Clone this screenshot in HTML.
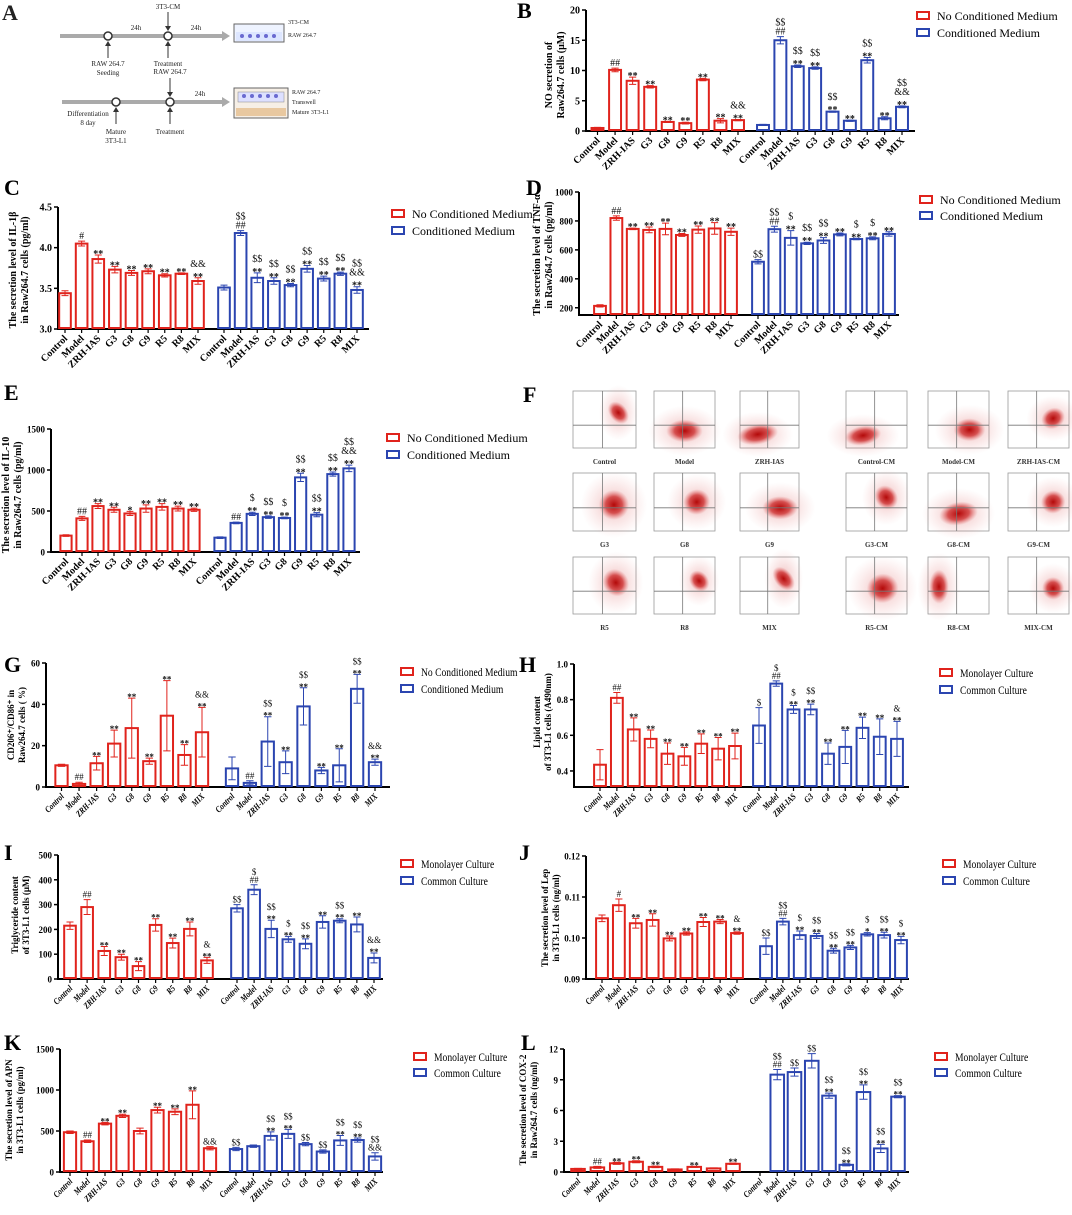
<!DOCTYPE html>
<html><head><meta charset="utf-8">
<style>
html,body{margin:0;padding:0;background:#fff;}
svg{display:block;font-family:"Liberation Serif",serif;}
</style></head>
<body>
<svg id="fig" width="1072" height="1215" viewBox="0 0 1072 1215" xmlns="http://www.w3.org/2000/svg">
<defs>
<radialGradient id="blob"><stop offset="0" stop-color="#b00000" stop-opacity="0.95"/><stop offset="0.55" stop-color="#c81818" stop-opacity="0.7"/><stop offset="1" stop-color="#e06060" stop-opacity="0"/></radialGradient>
<radialGradient id="haze"><stop offset="0" stop-color="#d04040" stop-opacity="0.35"/><stop offset="1" stop-color="#e88080" stop-opacity="0"/></radialGradient>
</defs>
<g font-size="7" fill="#222">
<text x="2" y="20" font-size="22" font-weight="bold">A</text>
<line x1="60" y1="36" x2="222" y2="36" stroke="#aaa" stroke-width="4"/>
<polygon points="222,31 230,36 222,41" fill="#aaa"/>
<circle cx="108" cy="36" r="4" fill="#fff" stroke="#333" stroke-width="1.5"/>
<circle cx="168" cy="36" r="4" fill="#fff" stroke="#333" stroke-width="1.5"/>
<text x="136" y="30" text-anchor="middle">24h</text><text x="196" y="30" text-anchor="middle">24h</text>
<text x="168" y="9" text-anchor="middle">3T3-CM</text>
<line x1="168" y1="12" x2="168" y2="29" stroke="#333"/><polygon points="165,26 168,31 171,26" fill="#333"/>
<line x1="108" y1="58" x2="108" y2="43" stroke="#333"/><polygon points="105,46 108,41 111,46" fill="#333"/>
<line x1="168" y1="58" x2="168" y2="43" stroke="#333"/><polygon points="165,46 168,41 171,46" fill="#333"/>
<text x="108" y="66" text-anchor="middle">RAW 264.7</text><text x="108" y="75" text-anchor="middle">Seeding</text>
<text x="168" y="66" text-anchor="middle">Treatment</text>
<rect x="234" y="24" width="50" height="18" fill="#eef3ff" stroke="#666"/>
<rect x="236" y="32" width="46" height="9" fill="#dde6ff"/>
<g fill="#6a6ad0"><circle cx="242" cy="36" r="2"/><circle cx="250" cy="36" r="2"/><circle cx="258" cy="36" r="2"/><circle cx="266" cy="36" r="2"/><circle cx="274" cy="36" r="2"/></g>
<text x="288" y="24" font-size="6">3T3-CM</text><text x="288" y="37" font-size="6">RAW 264.7</text>
<line x1="62" y1="102" x2="222" y2="102" stroke="#aaa" stroke-width="4"/>
<polygon points="222,97 230,102 222,107" fill="#aaa"/>
<circle cx="116" cy="102" r="4" fill="#fff" stroke="#333" stroke-width="1.5"/>
<circle cx="170" cy="102" r="4" fill="#fff" stroke="#333" stroke-width="1.5"/>
<text x="200" y="96" text-anchor="middle">24h</text>
<text x="170" y="74" text-anchor="middle">RAW 264.7</text>
<line x1="170" y1="78" x2="170" y2="95" stroke="#333"/><polygon points="167,92 170,97 173,92" fill="#333"/>
<text x="88" y="116" text-anchor="middle">Differentiation</text><text x="88" y="125" text-anchor="middle">8 day</text>
<line x1="116" y1="124" x2="116" y2="109" stroke="#333"/><polygon points="113,112 116,107 119,112" fill="#333"/>
<line x1="170" y1="124" x2="170" y2="109" stroke="#333"/><polygon points="167,112 170,107 173,112" fill="#333"/>
<text x="116" y="134" text-anchor="middle">Mature</text><text x="116" y="143" text-anchor="middle">3T3-L1</text>
<text x="170" y="134" text-anchor="middle">Treatment</text>
<rect x="234" y="88" width="54" height="30" fill="#f6efe6" stroke="#666"/>
<rect x="238" y="92" width="46" height="10" fill="#dde0ff" stroke="#888" stroke-width="0.5"/>
<g fill="#6a6ad0"><circle cx="244" cy="96" r="2"/><circle cx="252" cy="96" r="2"/><circle cx="260" cy="96" r="2"/><circle cx="268" cy="96" r="2"/><circle cx="276" cy="96" r="2"/></g>
<rect x="236" y="108" width="50" height="8" fill="#e8c8a0"/>
<text x="292" y="94" font-size="6">RAW 264.7</text><text x="292" y="104" font-size="6">Transwell</text><text x="292" y="114" font-size="6">Mature 3T3-L1</text>
</g>
<g id="panels"></g>
<g id="flow"></g>
</svg>
<script>
const categories = ["Control","Model","ZRH-IAS","G3","G8","G9","R5","R8","MIX"];
const legendNCM = ["No Conditioned Medium","Conditioned Medium"];
const legendCul = ["Monolayer Culture","Common Culture"];

const bRed=[0.5,10.1,8.3,7.3,1.5,1.3,8.5,1.7,1.8];
const bRedErr=[0.1,0.3,0.6,0.2,0.1,0.15,0.2,0.35,0.1];
const bBlue=[1.0,15.0,10.7,10.4,3.2,1.7,11.7,2.1,4.0];
const bBlueErr=[0.1,0.6,0.2,0.2,0.1,0.1,0.45,0.25,0.15];
const bRedAnn=["","##","**","**","**","**","**","**","&&,**"];
const bBlueAnn=["","$$,##","$$,**","$$,**","$$,**","**","$$,**","**","$$,&&,**"];
const bTicks=[0,5,10,15,20];

const cRed=[3.44,4.05,3.86,3.73,3.69,3.71,3.66,3.68,3.59];
const cRedErr=[0.03,0.03,0.05,0.04,0.03,0.03,0.02,0.01,0.04];
const cBlue=[3.51,4.18,3.63,3.59,3.54,3.74,3.62,3.68,3.48];
const cBlueErr=[0.03,0.03,0.06,0.04,0.02,0.04,0.03,0.02,0.04];
const cRedAnn=["","#","**","**","**","**","**","**","&&,**"];
const cBlueAnn=["","$$,##","$$,**","$$,**","$$,**","$$,**","$$,**","$$,**","$$,&&,**"];
const cTicks=[3.0,3.5,4.0,4.5];

const dRed=[213,820,745,738,745,703,740,748,725];
const dRedErr=[8,15,5,20,40,10,25,40,25];
const dBlue=[518,743,683,645,665,707,675,680,710];
const dBlueErr=[15,20,50,8,20,10,5,10,15];
const dRedAnn=["","##","**","**","**","**","**","**","**"];
const dBlueAnn=["$$","$$,##","$,**","$$,**","$$,**","**","$,**","$,**","**"];
const dTicks=[200,400,600,800,1000];

const eRed=[200,410,560,515,470,530,550,530,515];
const eRedErr=[10,25,30,30,25,45,40,30,20];
const eBlue=[175,355,465,425,415,910,455,950,1020];
const eBlueErr=[10,10,20,15,10,50,25,25,40];
const eRedAnn=["","##","**","**","*","**","**","**","**"];
const eBlueAnn=["","##","$,**","$$,**","$,**","$$,**","$$,**","$$,**","$$,&&,**"];
const eTicks=[0,500,1000,1500];

const gRed=[10.5,1.5,11.5,21,28.5,12.5,34.5,15.5,26.5];
const gRedErr=[0.5,0.8,3.3,6.5,14.5,1.5,17,5,12];
const gBlue=[9,2,22,12,39,8,10.5,47.5,12];
const gBlueErr=[5.5,1,12,5.5,9,1.5,8,7,1.5];
const gRedAnn=["","##","**","**","**","**","**","**","&&,**"];
const gBlueAnn=["","##","$$,**","**","$$,**","**","**","$$,**","&&,**"];
const gTicks=[0,20,40,60];

const hRed=[0.435,0.81,0.633,0.58,0.497,0.482,0.553,0.525,0.54];
const hRedErr=[0.085,0.03,0.065,0.05,0.06,0.05,0.055,0.063,0.072];
const hBlue=[0.655,0.89,0.745,0.745,0.497,0.535,0.642,0.592,0.58];
const hBlueErr=[0.1,0.015,0.022,0.03,0.06,0.093,0.06,0.1,0.098];
const hRedAnn=["","##","**","**","**","**","**","**","**"];
const hBlueAnn=["$","$,##","$,**","$$,**","**","**","**","**","&,**"];
const hTicks=[0.4,0.6,0.8,1.0];

const iRed=[215,290,113,88,52,218,145,202,75];
const iRedErr=[15,30,18,12,18,25,20,28,12];
const iBlue=[285,360,202,160,142,230,235,220,85];
const iBlueErr=[15,20,35,12,20,25,8,30,20];
const iRedAnn=["","##","**","**","**","**","**","**","&,**"];
const iBlueAnn=["$$","$,##","$$,**","$,**","$$,**","**","$$,**","**","&&,**"];
const iTicks=[0,100,200,300,400,500];

const jRed=[0.1048,0.108,0.1036,0.1044,0.0999,0.1011,0.1039,0.1040,0.1012];
const jRedErr=[0.0008,0.0015,0.0012,0.0015,0.0006,0.0004,0.0011,0.0005,0.0003];
const jBlue=[0.098,0.104,0.1007,0.1005,0.0969,0.0977,0.1009,0.1007,0.0995];
const jBlueErr=[0.002,0.0008,0.001,0.0006,0.0006,0.0005,0.0004,0.0007,0.0009];
const jRedAnn=["","#","**","**","**","**","**","**","&,**"];
const jBlueAnn=["$$","$$,##","$,**","$$,**","$$,**","$$,**","$,*","$$,**","$,**"];
const jTicks=[0.09,0.10,0.11,0.12];

const kRed=[485,375,590,685,500,755,735,820,290];
const kRedErr=[15,15,15,20,35,35,35,170,20];
const kBlue=[280,315,440,465,340,250,385,390,190];
const kBlueErr=[20,15,50,55,20,20,60,25,45];
const kRedAnn=["","##","**","**","","**","**","**","&&"];
const kBlueAnn=["$$","","$$,**","$$,**","$$","$$","$$,**","$$,**","$$,&&"];
const kTicks=[0,500,1000,1500];

const lRed=[0.3,0.45,0.85,1.0,0.5,0.25,0.5,0.35,0.8];
const lRedErr=[0.05,0.1,0.1,0.1,0.07,0.05,0.05,0.05,0.06];
const lBlue=[0.05,9.5,9.75,10.85,7.45,0.7,7.8,2.3,7.35];
const lBlueErr=[0,0.5,0.4,0.7,0.25,0.1,0.7,0.4,0.1];
const lRedAnn=["","##","**","**","**","","**","","**"];
const lBlueAnn=["","$$,##","$$","$$","$$,**","$$,**","$$,**","$$,**","$$,**"];
const lTicks=[0,3,6,9,12];

const flowLabels=["Control","Model","ZRH-IAS","Control-CM","Model-CM","ZRH-IAS-CM","G3","G8","G9","G3-CM","G8-CM","G9-CM","R5","R8","MIX","R5-CM","R8-CM","MIX-CM"];

const NS="http://www.w3.org/2000/svg";
const root=document.getElementById('panels');
function mk(tag,attrs,parent){const e=document.createElementNS(NS,tag);for(const k in attrs)e.setAttribute(k,attrs[k]);(parent||root).appendChild(e);return e;}
const RED="#e0231c",BLUE="#2b45b0";

function panel(cfg){
  const g=mk('g',{});
  
  
  const [d0,d1]=cfg.domain;
  const y=v=>cfg.yB-(v-d0)/(d1-d0)*(cfg.yB-cfg.yT0);
  const sp=(cfg.c8-cfg.c0)/8, sp2=(cfg.d8-cfg.d0)/8;
  const xR=i=>cfg.c0+i*sp, xB=i=>cfg.d0+i*sp2;
  const bw=sp*cfg.bwf, fs=cfg.fs||10, tfs=cfg.tfs||10;
  const cond=cfg.cond?' scale(0.8,1)':'';
  const L=mk('text',{x:cfg.lx,y:cfg.ly,'font-size':22,'font-weight':'bold'},g);L.textContent=cfg.id.toUpperCase();
  
  
  const ax=mk('path',{d:`M${cfg.ax},${y(d1)} V${cfg.yB} H${cfg.axEnd}`,stroke:'#000','stroke-width':2,fill:'none'},g);
  
  
  cfg.ticks.forEach(t=>{
    mk('line',{x1:cfg.ax-4,x2:cfg.ax,y1:y(t),y2:y(t),stroke:'#000','stroke-width':1.5},g);
    const tt=mk('text',{x:cfg.ax-6,y:y(t)+3.5,'text-anchor':'end','font-size':tfs,'font-weight':'bold'},g);
    tt.textContent=cfg.fmt?cfg.fmt(t):t;
    
    
  });
  const yfs=cfg.yfs||10;
  const yt=mk('text',{transform:`translate(${cfg.ytx},${cfg.yty}) rotate(-90)`,'text-anchor':'middle','font-size':yfs,'font-weight':'bold'},g);
  
  
  cfg.ytitle.forEach((s,k)=>{const ts=mk('tspan',{x:0,dy:k?yfs+2:0},yt);ts.textContent=s;});
  function series(vals,errs,anns,xf,col,nm){
    vals.forEach((v,i)=>{
      const x=xf(i);
      mk('line',{x1:x,x2:x,y1:cfg.yB,y2:cfg.yB+4,stroke:'#000','stroke-width':1.2},g);
      const r=mk('rect',{x:x-bw/2,y:y(v),width:bw,height:Math.max(0,cfg.yB-1-y(v)),fill:'#fff',stroke:col,'stroke-width':2},g);
      
      
      const e=errs[i], yt2=y(v+e), yb=y(Math.max(d0,v-e));
      if(e>0){
        mk('path',{d:`M${x},${yb}V${yt2}M${x-bw*0.3},${yt2}H${x+bw*0.3}M${x-bw*0.3},${yb}H${x+bw*0.3}`,stroke:col,'stroke-width':1,fill:'none'},g);
      }
      const lines=anns[i]?anns[i].split(','):[];
      let ay=Math.min(yt2,y(v))-2;
      for(let k=lines.length-1;k>=0;k--){
        const a=mk('text',{x:x,y:ay+(lines[k].indexOf('*')>=0?4:0),'text-anchor':'middle','font-size':cfg.afs||10,'font-weight':lines[k].indexOf('*')>=0?'bold':'normal',fill:'#111'},g);
        a.textContent=lines[k];
        
        
        ay-= (cfg.afs||10)-1;
      }
      const xl=mk('text',{transform:`translate(${x+3},${cfg.yB+10}) rotate(-45)${cond}`,'text-anchor':'end','font-size':fs,'font-weight':'bold','font-style':cfg.cond?'italic':'normal'},g);
      xl.textContent=categories[i];
      
      
    });
  }
  series(cfg.red,cfg.redErr,cfg.redAnn,xR,RED,'red');
  series(cfg.blue,cfg.blueErr,cfg.blueAnn,xB,BLUE,'blue');
  [[RED,0],[BLUE,1]].forEach(([c,k])=>{
    const yy=cfg.lgy[k];
    const lg=mk('g',{},g);
    
    
    mk('rect',{x:cfg.lgx,y:yy-4,width:12,height:7,fill:'#fff',stroke:c,'stroke-width':2},lg);
    const t=mk('text',{x:cfg.lgx+20,y:yy+4,'font-size':cfg.lfs||12,transform:cfg.cond?`translate(${(cfg.lgx+20)*0.2},0) scale(0.8,1)`:''},lg);
    t.textContent=cfg.legend[k];
  });
}
const f1=v=>v.toFixed(1), f2=v=>v.toFixed(2);
panel({id:'b',lx:517,ly:18,domain:[0,20],yT0:10,yB:131,ax:586,axEnd:915,c0:597.5,c8:738,d0:763,d8:902,bwf:0.68,ticks:bTicks,red:bRed,redErr:bRedErr,blue:bBlue,blueErr:bBlueErr,redAnn:bRedAnn,blueAnn:bBlueAnn,ytitle:["NO secretion of","Raw264.7 cells  (μM)"],ytx:552,yty:75,lgx:917,lgy:[16,33],legend:legendNCM});
panel({id:'c',lx:4,ly:195,domain:[3.0,4.5],yT0:207,yB:329,ax:58,axEnd:369,c0:65,c8:198,d0:224,d8:357,bwf:0.7,ticks:cTicks,fmt:f1,red:cRed,redErr:cRedErr,blue:cBlue,blueErr:cBlueErr,redAnn:cRedAnn,blueAnn:cBlueAnn,ytitle:["The secretion level of IL-1β","in Raw264.7 cells (pg/ml)"],ytx:16,yty:270,lgx:392,lgy:[214,231],legend:legendNCM});
panel({id:'d',lx:526,ly:195,domain:[150,1000],yT0:192,yB:315,ax:579,axEnd:899,c0:600,c8:731,d0:758,d8:889,bwf:0.72,ticks:dTicks,tfs:9,red:dRed,redErr:dRedErr,blue:dBlue,blueErr:dBlueErr,redAnn:dRedAnn,blueAnn:dBlueAnn,ytitle:["The secretion level of TNF-α","in Raw264.7 cells (pg/ml)"],ytx:540,yty:255,lgx:920,lgy:[200,216],legend:legendNCM});
panel({id:'e',lx:4,ly:400,domain:[0,1500],yT0:429,yB:552,ax:51,axEnd:360,c0:66,c8:194,d0:220,d8:349,bwf:0.7,ticks:eTicks,tfs:9,red:eRed,redErr:eRedErr,blue:eBlue,blueErr:eBlueErr,redAnn:eRedAnn,blueAnn:eBlueAnn,ytitle:["The secretion level of IL-10","in Raw264.7 cells (pg/ml)"],ytx:9,yty:495,lgx:387,lgy:[438,455],legend:legendNCM});
panel({id:'g',lx:4,ly:672,domain:[0,60],yT0:663,yB:787,ax:46,axEnd:390,c0:61.5,c8:202,d0:232,d8:375,bwf:0.7,ticks:gTicks,red:gRed,redErr:gRedErr,blue:gBlue,blueErr:gBlueErr,redAnn:gRedAnn,blueAnn:gBlueAnn,ytitle:["CD206⁺/CD86⁺ in","Raw264.7 cells ( %)"],ytx:14,yty:725,lgx:401,lgy:[672,689],legend:legendNCM,cond:true,fs:9,tfs:9,yfs:9,afs:9});
panel({id:'h',lx:519,ly:672,domain:[0.31,1.0],yT0:664,yB:787,ax:574,axEnd:909,c0:600,c8:735,d0:759,d8:897,bwf:0.7,ticks:hTicks,fmt:f1,red:hRed,redErr:hRedErr,blue:hBlue,blueErr:hBlueErr,redAnn:hRedAnn,blueAnn:hBlueAnn,ytitle:["Lipid content","of 3T3-L1 cells (A490nm)"],ytx:540,yty:722,lgx:940,lgy:[673,690],legend:legendCul,cond:true,fs:9,tfs:9,yfs:9,afs:9});
panel({id:'i',lx:4,ly:860,domain:[0,500],yT0:855,yB:979,ax:58,axEnd:383,c0:70,c8:207,d0:237,d8:374,bwf:0.68,ticks:iTicks,red:iRed,redErr:iRedErr,blue:iBlue,blueErr:iBlueErr,redAnn:iRedAnn,blueAnn:iBlueAnn,ytitle:["Triglyceride content","of 3T3-L1 cells (μM)"],ytx:18,yty:915,lgx:401,lgy:[864,881],legend:legendCul,cond:true,fs:9,tfs:9,yfs:9,afs:9});
panel({id:'j',lx:519,ly:860,domain:[0.09,0.12],yT0:856,yB:979,ax:586,axEnd:909,c0:602,c8:737,d0:766,d8:901,bwf:0.7,ticks:jTicks,fmt:f2,red:jRed,redErr:jRedErr,blue:jBlue,blueErr:jBlueErr,redAnn:jRedAnn,blueAnn:jBlueAnn,ytitle:["The secretion level of  Lep","in 3T3-L1 cells (ng/ml)"],ytx:548,yty:918,lgx:943,lgy:[864,881],legend:legendCul,cond:true,fs:9,tfs:9,yfs:9,afs:9});
panel({id:'k',lx:4,ly:1050,domain:[0,1500],yT0:1049,yB:1172,ax:60,axEnd:383,c0:70,c8:210,d0:236,d8:375,bwf:0.7,ticks:kTicks,red:kRed,redErr:kRedErr,blue:kBlue,blueErr:kBlueErr,redAnn:kRedAnn,blueAnn:kBlueAnn,ytitle:["The secretion level of APN","in 3T3-L1 cells (pg/ml)"],ytx:12,yty:1110,lgx:414,lgy:[1057,1073],legend:legendCul,cond:true,fs:9,tfs:9,yfs:9,afs:9});
panel({id:'l',lx:521,ly:1050,domain:[0,12],yT0:1049,yB:1172,ax:564,axEnd:909,c0:578,c8:733,d0:760,d8:898,bwf:0.7,ticks:lTicks,red:lRed,redErr:lRedErr,blue:lBlue,blueErr:lBlueErr,redAnn:lRedAnn,blueAnn:lBlueAnn,ytitle:["The secretion level of COX-2","in Raw264.7 cells (ng/ml)"],ytx:526,yty:1110,lgx:935,lgy:[1057,1073],legend:legendCul,cond:true,fs:9,tfs:9,yfs:9,afs:9});

const fl=mk('text',{x:523,y:402,'font-size':22,'font-weight':'bold'});fl.textContent='F';



const froot=document.getElementById('flow');
const colsX=[[573,636],[654,715],[740,799],[846,907],[928,989],[1008,1069]];
const rowsY=[[391,448],[473,531],[557,614]];
const blobPos=[[0.72,0.38,0.14,0.22,-40],[0.5,0.7,0.3,0.2,0],[0.3,0.76,0.35,0.18,-10],
               [0.28,0.78,0.3,0.17,-10],[0.68,0.68,0.26,0.2,0],[0.74,0.48,0.2,0.18,-30],
               [0.65,0.55,0.24,0.26,0],[0.7,0.5,0.22,0.22,-20],[0.68,0.6,0.3,0.2,0],
               [0.66,0.42,0.18,0.22,-40],[0.5,0.7,0.32,0.2,-10],[0.74,0.5,0.2,0.2,-20],
               [0.68,0.45,0.2,0.25,-35],[0.74,0.42,0.15,0.2,-40],[0.74,0.38,0.15,0.24,-40],
               [0.6,0.55,0.26,0.26,-10],[0.18,0.52,0.16,0.3,0],[0.74,0.55,0.18,0.2,-20]];
flowLabels.forEach((lab,n)=>{
  const r=Math.floor(n/6), c=n%6;
  const [x0,x1]=colsX[c],[y0,y1]=rowsY[r],w=x1-x0,h=y1-y0;
  const g=mk('g',{},froot);
  
  
  mk('rect',{x:x0,y:y0,width:w,height:h,fill:'#fff',stroke:'#999','stroke-width':0.8},g);
  const b=blobPos[n];
  mk('ellipse',{cx:x0+b[0]*w,cy:y0+b[1]*h,rx:Math.min(b[2]*w*2.2,w*0.6),ry:Math.min(b[3]*h*2.2,h*0.6),fill:'url(#haze)'},g);
  mk('ellipse',{cx:x0+b[0]*w,cy:y0+b[1]*h,rx:b[2]*w,ry:b[3]*h,fill:'url(#blob)',transform:`rotate(${b[4]} ${x0+b[0]*w} ${y0+b[1]*h})`},g);
  mk('line',{x1:x0+w*0.47,x2:x0+w*0.47,y1:y0,y2:y1,stroke:'#777','stroke-width':0.8},g);
  mk('line',{x1:x0,x2:x1,y1:y0+h*0.6,y2:y0+h*0.6,stroke:'#777','stroke-width':0.8},g);
  const t=mk('text',{x:x0+w/2,y:y1+16,'text-anchor':'middle','font-size':7,'font-weight':'bold',fill:'#333'},froot);
  t.textContent=lab;
  
  
});
</script>
</body></html>
